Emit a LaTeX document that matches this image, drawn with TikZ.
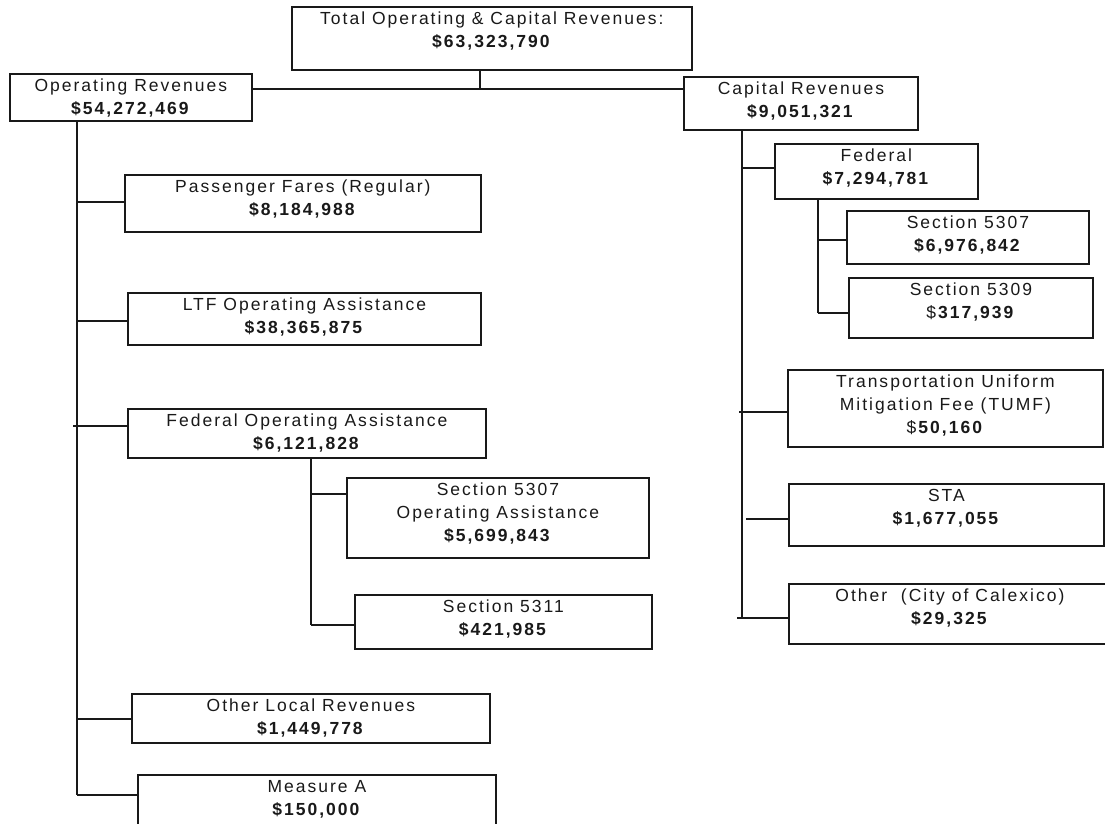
\documentclass[tikz,border=0pt]{standalone}
\usepackage{fontspec}
\setmainfont{Liberation Sans}[LetterSpace=11.5]
\newcommand{\bxt}[3]{\parbox[b][#2pt][t]{#1pt}{\centering\rule{0pt}{17.5pt}#3}}
\begin{document}
\begin{tikzpicture}[x=1pt,y=-1pt,
  box/.style={draw=black!90, line width=1.8pt, inner sep=0pt, anchor=north west,
    font=\fontsize{17.5}{23}\selectfont, text=black!90},
  conn/.style={draw=black!90, line width=1.6pt}]
\useasboundingbox (0,0) rectangle (1105,823);
\clip (0,0) rectangle (1105,823);
% top
\node[box] (total) at (291,6) {\bxt{400}{63}{Total Operating \& Capital Revenues:\\\textbf{\$63,323,790}}};
\node[box] (oprev) at (9,73) {\bxt{242}{47}{Operating Revenues\\\textbf{\$54,272,469}}};
\node[box] (caprev) at (683,76) {\bxt{234}{53}{Capital Revenues\\\textbf{\$9,051,321}}};
% operating side
\node[box] (pass) at (124,174) {\bxt{356}{57}{Passenger Fares (Regular)\\\textbf{\$8,184,988}}};
\node[box] (ltf) at (127,292) {\bxt{353}{52}{LTF Operating Assistance\\\textbf{\$38,365,875}}};
\node[box] (fedop) at (127,408) {\bxt{358}{49}{Federal Operating Assistance\\\textbf{\$6,121,828}}};
\node[box] (sopa) at (346,477) {\bxt{302}{80}{Section 5307\\Operating Assistance\\\textbf{\$5,699,843}}};
\node[box] (sfive) at (354,594) {\bxt{297}{54}{Section 5311\\\textbf{\$421,985}}};
\node[box] (olocal) at (131,693) {\bxt{358}{49}{Other Local Revenues\\\textbf{\$1,449,778}}};
\node[box] (meas) at (137,774) {\bxt{358}{56}{Measure A\\\textbf{\$150,000}}};
% capital side
\node[box] (fed) at (774,143) {\bxt{203}{55}{Federal\\\textbf{\$7,294,781}}};
\node[box] (ssev) at (846,210) {\bxt{242}{53}{Section 5307\\\textbf{\$6,976,842}}};
\node[box] (snine) at (848,277) {\bxt{244}{60}{Section 5309\\\$\textbf{317,939}}};
\node[box] (tumf) at (787,369) {\bxt{315}{77}{Transportation Uniform\\Mitigation Fee (TUMF)\\\$\textbf{50,160}}};
\node[box] (sta) at (788,483) {\bxt{315}{62}{STA\\\textbf{\$1,677,055}}};
\node[box] (other) at (788,583) {\bxt{322}{60}{Other\ \ (City of Calexico)\\\textbf{\$29,325}}};
% trunk coordinates
\coordinate (tj) at (480,89);
\coordinate (opt) at (77,120);
\coordinate (op1) at (77,202);
\coordinate (op2) at (77,321);
\coordinate (op3) at (73,426);
\coordinate (op4) at (77,719);
\coordinate (op5) at (77,795);
\coordinate (fo1) at (311,494);
\coordinate (fo2) at (311,625);
\coordinate (cp1) at (742,168);
\coordinate (cp2) at (739,412);
\coordinate (cp3) at (746,519);
\coordinate (cp4) at (737,618);
\coordinate (cpb) at (742,618);
\coordinate (fd1) at (818,240);
\coordinate (fd2) at (818,313);
% connectors
\draw[conn] (total.south -| tj) -- (tj);
\draw[conn] (oprev.east |- tj) -- (caprev.west |- tj);
\draw[conn] (opt) -- (op5);
\draw[conn] (op1) -- (pass.west |- op1);
\draw[conn] (op2) -- (ltf.west |- op2);
\draw[conn] (op3) -- (fedop.west |- op3);
\draw[conn] (op4) -- (olocal.west |- op4);
\draw[conn] (op5) -- (meas.west |- op5);
\draw[conn] (fedop.south -| fo1) -- (fo2);
\draw[conn] (fo1) -- (sopa.west |- fo1);
\draw[conn] (fo2) -- (sfive.west |- fo2);
\draw[conn] (caprev.south -| cp1) -- (cpb);
\draw[conn] (cp1) -- (fed.west |- cp1);
\draw[conn] (cp2) -- (tumf.west |- cp2);
\draw[conn] (cp3) -- (sta.west |- cp3);
\draw[conn] (cp4) -- (other.west |- cp4);
\draw[conn] (fed.south -| fd1) -- (fd2);
\draw[conn] (fd1) -- (ssev.west |- fd1);
\draw[conn] (fd2) -- (snine.west |- fd2);
\end{tikzpicture}
\end{document}
